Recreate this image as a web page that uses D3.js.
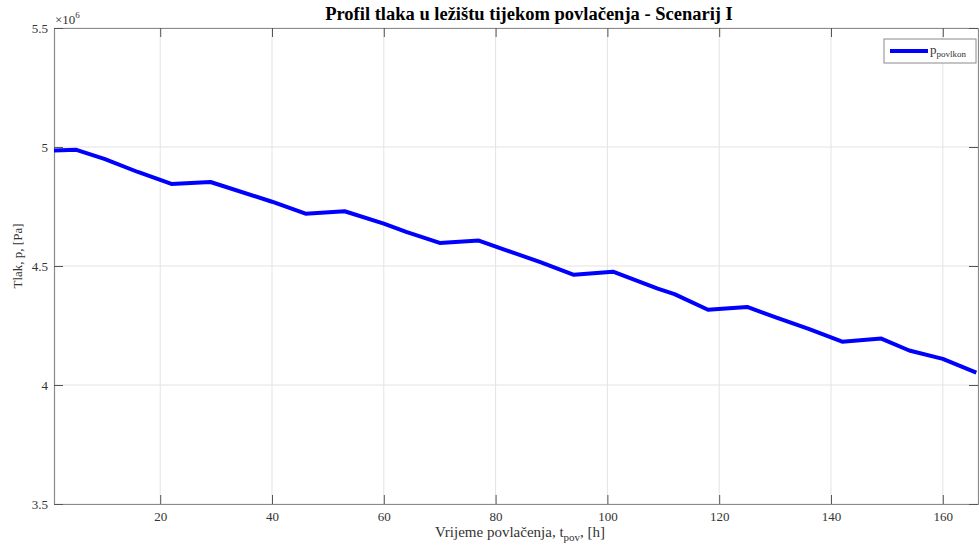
<!DOCTYPE html>
<html>
<head>
<meta charset="utf-8">
<script src="https://cdn.jsdelivr.net/npm/d3@7"></script>
<style>
  body { margin: 0; background: #fff; }
</style>
</head>
<body>
<div id="chart"></div>
<script>
// vrijeme povlacenja [h]
const hours = [1, 5, 10, 16, 22, 29, 40, 46, 53, 60, 64, 70, 77, 88, 94, 101, 109, 112, 118, 125, 130, 136, 142, 149, 154, 160, 166];
// tlak u lezistu [Pa]
const pressure = [4.985e6, 4.988e6, 4.950e6, 4.895e6, 4.845e6, 4.853e6, 4.770e6, 4.720e6, 4.730e6, 4.678e6, 4.643e6, 4.597e6, 4.607e6, 4.516e6, 4.463e6, 4.476e6, 4.405e6, 4.382e6, 4.316e6, 4.328e6, 4.285e6, 4.236e6, 4.182e6, 4.195e6, 4.145e6, 4.110e6, 4.052e6];
const xTicks = [20, 40, 60, 80, 100, 120, 140, 160];
const yTicks = [3.5e6, 4e6, 4.5e6, 5e6, 5.5e6];

const FONT = '"Liberation Serif", "Times New Roman", serif';
const W = 979, H = 549;
const margin = {top: 28, right: 1, bottom: 45, left: 54};
const width = W - margin.left - margin.right,
    height = H - margin.top - margin.bottom;

const svg = d3.select("#chart").append("svg")
    .attr("width", W)
    .attr("height", H)
    .style("font-family", FONT);
const g = svg.append("g")
    .attr("transform", "translate(" + margin.left + "," + margin.top + ")");

const x = d3.scaleLinear().domain([1, 166.3]).range([0, width]);
const y = d3.scaleLinear().domain([3.5e6, 5.5e6]).range([height, 0]);

// grid
g.append("g").selectAll("line").data(xTicks).enter().append("line")
    .attr("x1", d => x(d)).attr("x2", d => x(d))
    .attr("y1", 0).attr("y2", height)
    .attr("stroke", "#e3e3e3").attr("stroke-width", 1);
g.append("g").selectAll("line").data(yTicks).enter().append("line")
    .attr("x1", 0).attr("x2", width)
    .attr("y1", d => y(d)).attr("y2", d => y(d))
    .attr("stroke", "#e3e3e3").attr("stroke-width", 1);

// axes (ticks inward, box on all sides)
const tl = 9;
const fmtY = d => d3.format("")(d / 1e6);
const axisStyle = sel => {
    sel.attr("font-family", FONT);
    sel.select(".domain").attr("stroke", "#8a8a8a").attr("stroke-width", 1.2);
    sel.selectAll(".tick line").attr("stroke", "#555");
    sel.selectAll(".tick text").attr("fill", "#333")
        .style("font-family", FONT).style("font-size", "13px");
};
g.append("g").attr("transform", "translate(0," + height + ")")
    .call(d3.axisBottom(x).tickValues(xTicks).tickSizeInner(-tl).tickSizeOuter(0).tickPadding(8))
    .call(axisStyle);
g.append("g")
    .call(d3.axisTop(x).tickValues(xTicks).tickSizeInner(-tl).tickSizeOuter(0).tickFormat(""))
    .call(axisStyle);
g.append("g")
    .call(d3.axisLeft(y).tickValues(yTicks).tickSizeInner(-tl).tickSizeOuter(0).tickPadding(6).tickFormat(fmtY))
    .call(axisStyle);
g.append("g").attr("transform", "translate(" + width + ",0)")
    .call(d3.axisRight(y).tickValues(yTicks).tickSizeInner(-tl).tickSizeOuter(0).tickFormat(""))
    .call(axisStyle);

// exponent label
const expo = svg.append("text").attr("x", margin.left + 1).attr("y", 24)
    .attr("fill", "#333").style("font-size", "13px");
expo.append("tspan").text("\u00d710");
expo.append("tspan").attr("dy", -6).style("font-size", "9px").text("6");

// data line
const data = hours.map((h, i) => ({t: h, p: pressure[i]}));
const line = d3.line().x(d => x(d.t)).y(d => y(d.p));
g.append("path").datum(data)
    .attr("fill", "none")
    .attr("stroke", "#0000ff")
    .attr("stroke-width", 4)
    .attr("stroke-linejoin", "round")
    .attr("d", line);

// title
svg.append("text")
    .attr("x", 529).attr("y", 20)
    .attr("text-anchor", "middle")
    .style("font-size", "18.5px").style("font-weight", "bold")
    .attr("fill", "#000")
    .text("Profil tlaka u ležištu tijekom povlačenja - Scenarij I");

// x label
const xl = svg.append("text")
    .attr("x", margin.left + width / 2 + 4).attr("y", 537)
    .attr("text-anchor", "middle")
    .attr("fill", "#333").style("font-size", "15px");
xl.append("tspan").text("Vrijeme povlačenja, t");
xl.append("tspan").attr("dy", 4).style("font-size", "11px").text("pov");
xl.append("tspan").attr("dy", -4).text(", [h]");

// y label
svg.append("text")
    .attr("transform", "translate(22,256) rotate(-90)")
    .attr("text-anchor", "middle")
    .attr("fill", "#333").style("font-size", "13px")
    .text("Tlak, p, [Pa]");

// legend
const lg = svg.append("g").attr("transform", "translate(884,39)");
lg.append("rect").attr("width", 92).attr("height", 24)
    .attr("fill", "#fff").attr("stroke", "#8a8a8a").attr("stroke-width", 1);
lg.append("line").attr("x1", 6).attr("x2", 44).attr("y1", 12).attr("y2", 12)
    .attr("stroke", "#0000ff").attr("stroke-width", 4);
const lt = lg.append("text").attr("x", 46).attr("y", 15)
    .attr("fill", "#333").style("font-size", "13px");
lt.append("tspan").text("p");
lt.append("tspan").attr("dy", 3).style("font-size", "9px").text("povlkon");
</script>
</body>
</html>
